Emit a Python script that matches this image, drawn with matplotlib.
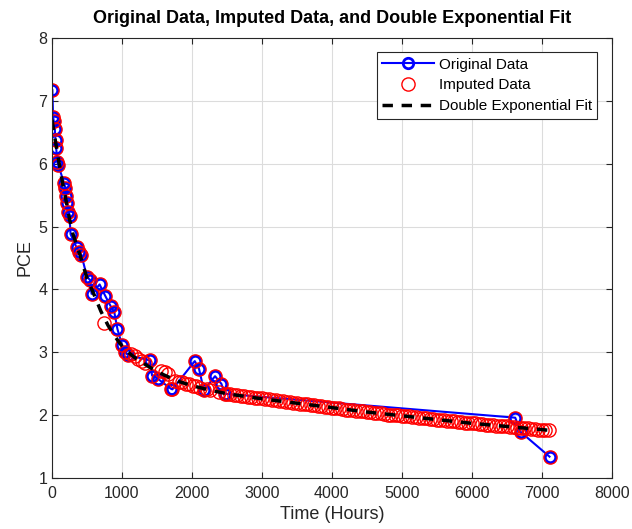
import matplotlib
matplotlib.use('Agg')
import matplotlib.pyplot as plt

plt.rcParams['font.family'] = ['Liberation Sans', 'DejaVu Sans']

# measured PCE (original data)
orig_time = [5, 15, 25, 40, 50, 60, 75, 90, 170, 190, 200, 215, 235, 250, 265,
             350, 390, 420, 500, 545, 565, 680, 760, 840, 890, 935, 1000, 1045,
             1080, 1400, 1430, 1510, 1700, 1720, 2040, 2100, 2170, 2330, 2420,
             2470, 6620, 6700, 7110]
orig_pce = [7.17, 6.75, 6.68, 6.55, 6.38, 6.25, 6.03, 5.98, 5.70, 5.62, 5.48,
            5.38, 5.24, 5.17, 4.88, 4.67, 4.60, 4.55, 4.20, 4.15, 3.93, 4.08,
            3.90, 3.73, 3.64, 3.37, 3.12, 3.01, 2.96, 2.87, 2.63, 2.58, 2.42,
            2.41, 2.86, 2.74, 2.40, 2.62, 2.50, 2.34, 1.96, 1.73, 1.34]

# extra imputed points (gap filling), added on top of the original points
fill_time = [750, 1130, 1180, 1230, 1280, 1330, 1560, 1610, 1660, 1760, 1810,
             1860, 1910, 1960, 2010, 2060, 2110, 2210, 2260, 2380,
             2500, 2550, 2600, 2650, 2700, 2750, 2800, 2850, 2900, 2950,
             3000, 3050, 3100, 3150, 3200, 3250, 3300, 3350, 3400, 3450,
             3500, 3550, 3600, 3650, 3700, 3750, 3800, 3850, 3900, 3950,
             4000, 4050, 4100, 4150, 4200, 4250, 4300, 4350, 4400, 4450,
             4500, 4550, 4600, 4650, 4700, 4750, 4800, 4850, 4900, 4950,
             5000, 5050, 5100, 5150, 5200, 5250, 5300, 5350, 5400, 5450,
             5500, 5550, 5600, 5650, 5700, 5750, 5800, 5850, 5900, 5950,
             6000, 6050, 6100, 6150, 6200, 6250, 6300, 6350, 6400, 6450,
             6500, 6550, 6600, 6650, 6700, 6750, 6800, 6850, 6900, 6950,
             7000, 7050, 7100]
fill_pce = [3.47, 2.98, 2.94, 2.90, 2.86, 2.83, 2.70, 2.69, 2.66, 2.55, 2.53,
            2.52, 2.50, 2.49, 2.47, 2.46, 2.44, 2.41, 2.40, 2.37,
            2.34, 2.33, 2.32, 2.32, 2.31, 2.30, 2.29, 2.29, 2.28, 2.27,
            2.27, 2.26, 2.25, 2.24, 2.24, 2.23, 2.22, 2.21, 2.21, 2.20,
            2.19, 2.18, 2.18, 2.17, 2.16, 2.16, 2.15, 2.14, 2.13, 2.13,
            2.12, 2.11, 2.11, 2.10, 2.09, 2.09, 2.08, 2.07, 2.07, 2.06,
            2.05, 2.05, 2.04, 2.03, 2.03, 2.02, 2.01, 2.01, 2.00, 2.00,
            1.99, 1.98, 1.98, 1.97, 1.97, 1.96, 1.95, 1.95, 1.94, 1.94,
            1.93, 1.92, 1.92, 1.91, 1.91, 1.90, 1.89, 1.89, 1.88, 1.88,
            1.87, 1.87, 1.86, 1.86, 1.85, 1.84, 1.84, 1.83, 1.83, 1.82,
            1.82, 1.81, 1.81, 1.80, 1.80, 1.79, 1.79, 1.78, 1.78, 1.77,
            1.77, 1.76, 1.76]

# double exponential fit, sampled off the curve
fit_time = [0, 50, 100, 150, 200, 250, 300, 400, 500, 600, 700, 800, 900,
            1000, 1100, 1200, 1400, 1600, 1800, 2000, 2250, 2500, 2750, 3000,
            3500, 4000, 4500, 5000, 5500, 6000, 6500, 7000, 7100]
fit_pce = [6.70, 6.35, 6.02, 5.70, 5.42, 5.12, 4.88, 4.55, 4.18, 3.92, 3.65,
           3.43, 3.25, 3.10, 2.99, 2.90, 2.76, 2.64, 2.54, 2.47, 2.40, 2.34,
           2.30, 2.26, 2.19, 2.12, 2.05, 1.99, 1.93, 1.87, 1.82, 1.77, 1.76]

imp_time = orig_time + fill_time
imp_pce = orig_pce + fill_pce

fig = plt.figure(figsize=(6.32, 5.29), dpi=100)
ax = fig.add_axes([0.0823, 0.0964, 0.8857, 0.8316])

ax.plot(orig_time, orig_pce, '-o', color='blue', linewidth=1.5,
        markersize=7.5, markeredgewidth=2, markerfacecolor='none',
        label='Original Data')
ax.plot(imp_time, imp_pce, 'o', color='red', linestyle='none',
        markersize=9.5, markeredgewidth=1, markerfacecolor='none',
        label='Imputed Data')
ax.plot(fit_time, fit_pce, '--', color='black', linewidth=2.5,
        dashes=(3, 2.5), label='Double Exponential Fit')

ax.set_xlim(0, 8000)
ax.set_ylim(1, 8)
ax.set_xticks(range(0, 8001, 1000))
ax.set_yticks(range(1, 9))
ax.grid(True, color='#dcdcdc', linewidth=0.8)
ax.set_axisbelow(True)
ax.tick_params(direction='in', length=4, colors='#262626', labelsize=11.5,
               top=True, right=True, labeltop=False, labelright=False)
ax.tick_params(axis='x', pad=6)
for s in ax.spines.values():
    s.set_color('#262626')
    s.set_linewidth(0.8)

ax.set_xlabel('Time (Hours)', fontsize=13, color='#262626', labelpad=3)
ax.set_ylabel('PCE', fontsize=13, color='#262626', labelpad=3)
ax.set_title('Original Data, Imputed Data, and Double Exponential Fit',
             fontsize=13, fontweight='bold', pad=11)

leg = ax.legend(loc='upper right', bbox_to_anchor=(0.974, 0.968), fontsize=11,
                fancybox=False, framealpha=1, edgecolor='#262626',
                handlelength=3.4, borderpad=0.35, labelspacing=0.45,
                handletextpad=0.3, borderaxespad=0)
leg.get_frame().set_linewidth(0.8)

fig.savefig('out.png', dpi=100)
